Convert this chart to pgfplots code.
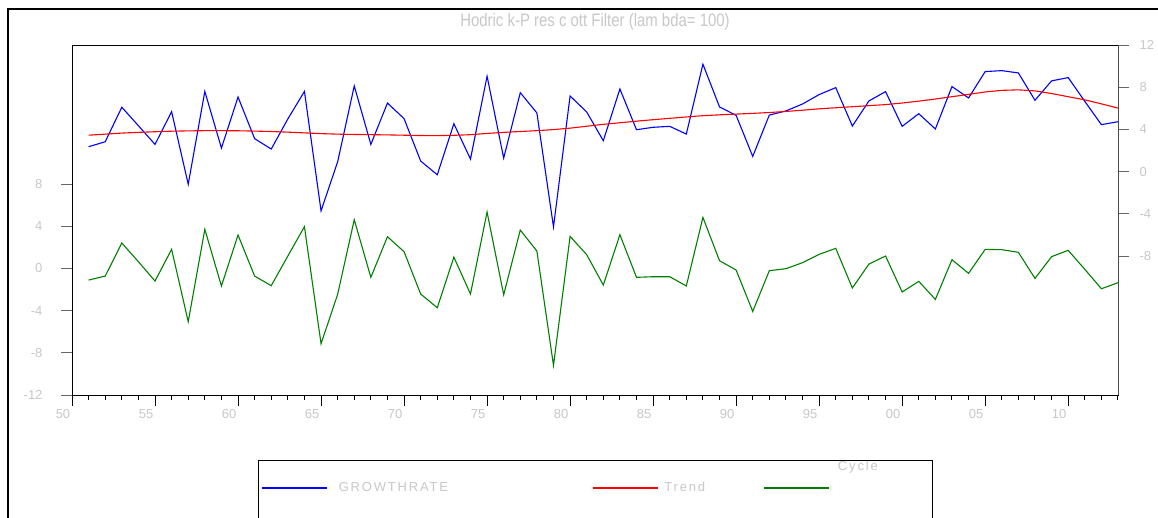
\documentclass[border=0pt]{standalone}
\usepackage{fontspec}
\setmainfont{Liberation Sans}
\usepackage{pgfplots}
\pgfplotsset{compat=1.18}
\usepackage{pgfplotstable}
\definecolor{lblgray}{RGB}{200,200,200}
\definecolor{egreen}{RGB}{0,128,0}
\definecolor{eblue}{RGB}{0,0,255}
\definecolor{ered}{RGB}{255,0,0}
\newcommand\tickfont{\fontsize{13}{13}\selectfont}
\newcommand\legfont{\fontsize{13}{13}\selectfont\addfontfeature{LetterSpace=14}}

\pgfplotstableread{
year g t c
1951 2.36 3.45 -1.11
1952 2.83 3.55 -0.73
1953 6.10 3.65 2.40
1954 4.35 3.72 0.63
1955 2.58 3.78 -1.20
1956 5.68 3.83 1.80
1957 -1.20 3.86 -5.05
1958 7.60 3.88 3.70
1959 2.23 3.88 -1.67
1960 7.07 3.87 3.16
1961 3.12 3.84 -0.73
1962 2.14 3.80 -1.64
1963 4.99 3.74 1.17
1964 7.60 3.67 3.95
1965 -3.72 3.60 -7.14
1966 0.93 3.55 -2.46
1967 8.12 3.52 4.61
1968 2.58 3.50 -0.85
1969 6.50 3.48 3.00
1970 5.02 3.45 1.58
1971 1.00 3.42 -2.43
1972 -0.30 3.41 -3.73
1973 4.54 3.44 1.07
1974 1.19 3.50 -2.43
1975 9.04 3.62 5.34
1976 1.28 3.72 -2.50
1977 7.48 3.80 3.63
1978 5.56 3.88 1.64
1979 -5.24 3.98 -9.19
1980 7.17 4.12 3.03
1981 5.65 4.30 1.30
1982 2.93 4.48 -1.58
1983 7.83 4.63 3.19
1984 3.97 4.78 -0.85
1985 4.20 4.92 -0.79
1986 4.29 5.05 -0.79
1987 3.56 5.18 -1.67
1988 10.18 5.30 4.83
1989 6.13 5.38 0.73
1990 5.33 5.45 -0.16
1991 1.44 5.52 -4.08
1992 5.36 5.60 -0.22
1993 5.75 5.70 -0.03
1994 6.41 5.82 0.54
1995 7.30 5.95 1.33
1996 7.96 6.05 1.90
1997 4.32 6.15 -1.86
1998 6.70 6.25 0.41
1999 7.58 6.35 1.17
2000 4.29 6.50 -2.24
2001 5.49 6.68 -1.23
2002 4.04 6.88 -2.94
2003 8.06 7.10 0.82
2004 6.98 7.32 -0.47
2005 9.48 7.55 1.80
2006 9.57 7.70 1.77
2007 9.35 7.75 1.52
2008 6.76 7.65 -0.95
2009 8.60 7.40 1.11
2010 8.91 7.10 1.71
2011 6.66 6.80 -0.09
2012 4.45 6.42 -1.93
2013 4.73 6.02 -1.36
}\hpdata

\begin{document}
\begin{tikzpicture}
\useasboundingbox (0pt,0pt) rectangle (1158pt,518pt);
\fill[white] (0pt,0pt) rectangle (1158pt,518pt);
\draw[line width=2pt] (8pt,-20pt) -- (8pt,509pt) -- (1180pt,509pt);
\node[text=lblgray, font=\fontsize{18}{18}\selectfont, inner sep=0pt] at (595pt,496pt) {\scalebox{0.83}[1]{Hodric k-P res c ott Filter (lam bda= 100)}};

\begin{axis}[
  at={(72pt,123pt)}, anchor=south west, scale only axis,
  width=1046pt, height=350pt,
  xmin=1950, xmax=2013, ymin=-12, ymax=21.17,
  xtick={1950,1955,...,2010},
  xticklabels={50,55,60,65,70,75,80,85,90,95,00,05,10},
  minor xtick={1951,1952,...,2013},
  ytick={-12,-8,-4,0,4,8},
  yticklabels={-12,-8,-4,0,4,8},
  xtick pos=bottom, ytick pos=left,
  tick align=outside,
  major tick length=11pt, minor tick length=5pt,
  axis line style={line width=0.9pt},
  xtick style={black, line width=0.9pt},
  ytick style={black!60, line width=0.9pt},
  xticklabel style={font=\tickfont, text=lblgray, xshift=-9pt},
  yticklabel style={font=\tickfont, text=lblgray, xshift=-15pt},
]
\addplot[egreen, line width=1.1pt] table[x=year,y=c]{\hpdata};
\end{axis}

\begin{axis}[
  at={(72pt,123pt)}, anchor=south west, scale only axis,
  width=1046pt, height=350pt,
  xmin=1950, xmax=2013, ymin=-21.17, ymax=12,
  hide x axis, axis y line*=right,
  ytick={-8,-4,0,4,8,12},
  yticklabels={-8,-4,0,4,8,12},
  tick align=outside, major tick length=11pt,
  axis line style={line width=0.9pt, black!70},
  ytick style={black!60, line width=0.9pt},
  yticklabel style={font=\tickfont, text=lblgray, xshift=7pt},
  legend columns=3,
  legend image code/.code={\draw[#1, line width=1.6pt] (0pt,0pt) -- (65pt,0pt);},
  legend style={draw=none, fill=none, at={(0.1778,-0.2657)}, anchor=west,
    nodes={inner sep=0pt, font=\legfont, text=lblgray},
    /tikz/column sep=0pt},
]
\addplot[eblue, line width=1.1pt] table[x=year,y=g]{\hpdata};
\addlegendentry{\makebox[264pt][l]{\hspace{11pt}GROWTHRATE}}
\addplot[ered, line width=1.1pt] table[x=year,y=t]{\hpdata};
\addlegendentry{\makebox[105pt][l]{\hspace{6pt}Trend}}
\addlegendimage{egreen, line width=1.6pt}
\addlegendentry{\makebox[98pt][l]{\hspace{8pt}\smash{\raisebox{17pt}{Cycle}}}}
\end{axis}

\draw[line width=1pt] (258pt,57pt) rectangle (932pt,-40pt);
\end{tikzpicture}
\end{document}
